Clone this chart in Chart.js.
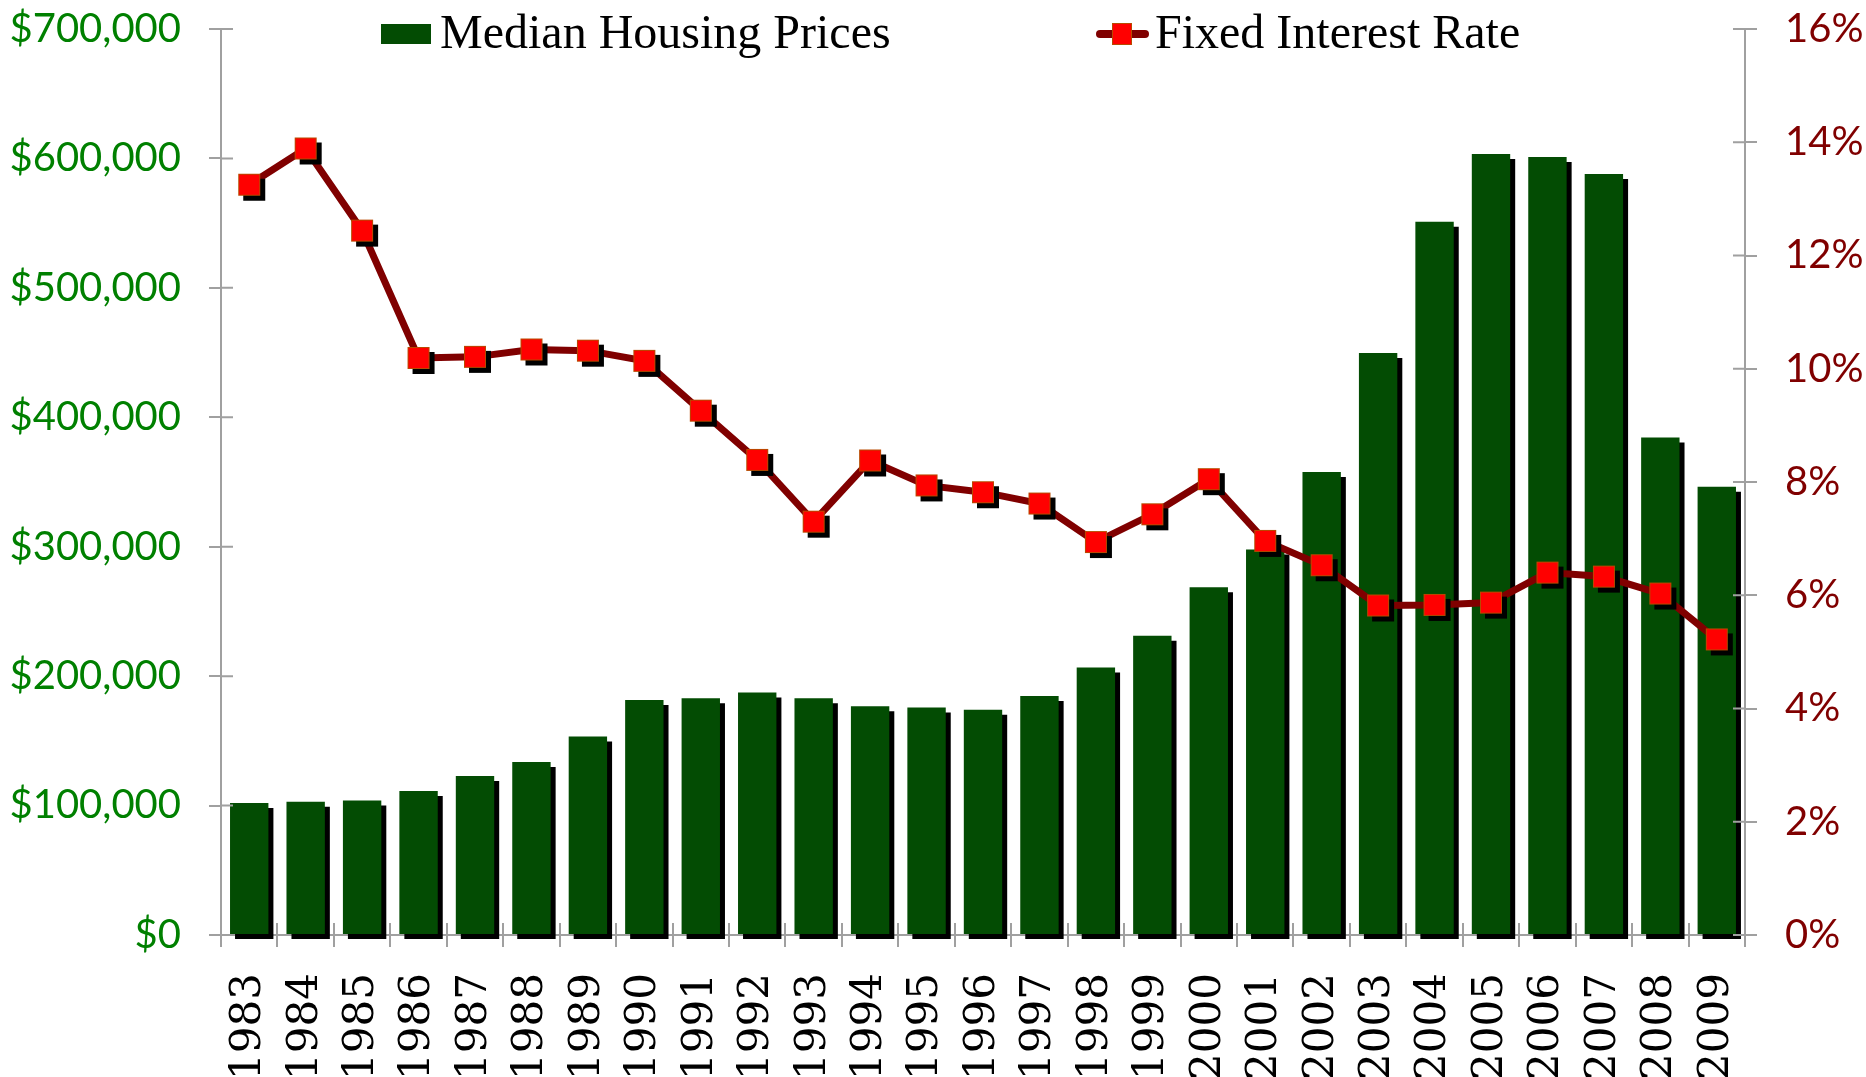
<!DOCTYPE html>
<html lang="en">
<head>
  <meta charset="utf-8">
  <title>Median Housing Prices and Fixed Interest Rate</title>
  <style type="text/css">
    html, body {
      margin: 0;
      padding: 0;
      background-color: #ffffff;
    }
    #wrap {
      width: 1866px;
      height: 1077px;
      position: relative;
    }
  </style>
  <script src="https://cdn.jsdelivr.net/npm/chart.js@4.4.1/dist/chart.umd.min.js"></script>
</head>
<body>
  <div id="wrap"><canvas id="graph"></canvas></div>
  <script>
    const years = ['1983', '1984', '1985', '1986', '1987', '1988', '1989', '1990', '1991',
      '1992', '1993', '1994', '1995', '1996', '1997', '1998', '1999', '2000', '2001',
      '2002', '2003', '2004', '2005', '2006', '2007', '2008', '2009'];
    const housingPrices = [102000, 103000, 104000, 111300, 122900, 133700, 153300, 181600, 182900,
      187300, 182900, 176700, 175700, 174100, 184700, 206700, 231200, 268700, 297900,
      357800, 449600, 551000, 603500, 601200, 588000, 384400, 346300];
    const interestRates = [13.25, 13.89, 12.44, 10.19, 10.21, 10.34, 10.32, 10.14, 9.26,
      8.39, 7.30, 8.38, 7.94, 7.82, 7.62, 6.94, 7.43, 8.05, 6.96,
      6.53, 5.82, 5.83, 5.87, 6.40, 6.33, 6.03, 5.22];
    const priceAxis = { min: 0, max: 700000, step: 100000 };
    const rateAxis = { min: 0, max: 16, step: 2 };

    const GREEN = '#034c03';
    const AXIS = '#a0a0a0';

    // square marker with its black drop shadow, centred on the point
    function makeMarker() {
      const c = document.createElement('canvas');
      c.width = 34;
      c.height = 34;
      const g = c.getContext('2d');
      g.fillStyle = '#000000';
      g.fillRect(11, 11, 22, 22);
      g.fillStyle = '#ff0000';
      g.fillRect(6, 6, 22, 22);
      g.strokeStyle = '#b84a00';
      g.lineWidth = 1;
      g.strokeRect(6.5, 6.5, 21, 21);
      return c;
    }

    const barShadow = {
      id: 'barShadow',
      beforeDatasetDraw(chart, args) {
        if (args.index !== 0) return;
        const ctx = chart.ctx;
        ctx.save();
        ctx.shadowColor = '#000000';
        ctx.shadowOffsetX = 5;
        ctx.shadowOffsetY = 5;
        ctx.shadowBlur = 0;
      },
      afterDatasetDraw(chart, args) {
        if (args.index !== 0) return;
        chart.ctx.restore();
      }
    };

    // tick marks cross the axis lines, so draw the inner half too
    const innerTicks = {
      id: 'innerTicks',
      afterDraw(chart) {
        const ctx = chart.ctx;
        const yl = chart.scales.y, yr = chart.scales.y1, x = chart.scales.x;
        ctx.save();
        ctx.strokeStyle = AXIS;
        ctx.lineWidth = 2;
        ctx.beginPath();
        yl.ticks.forEach(function (t, i) {
          const p = yl.getPixelForTick(i);
          ctx.moveTo(yl.right, p);
          ctx.lineTo(yl.right + 12, p);
        });
        yr.ticks.forEach(function (t, i) {
          const p = yr.getPixelForTick(i);
          ctx.moveTo(yr.left - 12, p);
          ctx.lineTo(yr.left, p);
        });
        const half = (x.getPixelForValue(1) - x.getPixelForValue(0)) / 2;
        for (let i = 0; i <= years.length; i++) {
          const p = Math.round(x.getPixelForValue(i) - half);
          ctx.moveTo(p, x.top - 12);
          ctx.lineTo(p, x.top);
        }
        ctx.stroke();
        ctx.restore();
      }
    };

    const topLegend = {
      id: 'topLegend',
      afterDraw(chart) {
        const ctx = chart.ctx;
        const sets = chart.data.datasets;
        ctx.save();
        ctx.font = '48px "Liberation Serif", "Times New Roman", serif';
        ctx.textBaseline = 'middle';
        // bars
        ctx.fillStyle = GREEN;
        ctx.fillRect(381, 24, 50, 20);
        ctx.fillStyle = '#000000';
        ctx.fillText(sets[0].label, 440, 35);
        // line
        ctx.strokeStyle = '#800000';
        ctx.lineWidth = 8;
        ctx.lineCap = 'round';
        ctx.beginPath();
        ctx.moveTo(1100, 34);
        ctx.lineTo(1145, 34);
        ctx.stroke();
        ctx.fillStyle = '#ff0000';
        ctx.fillRect(1112, 23, 20, 22);
        ctx.strokeStyle = '#b84a00';
        ctx.lineWidth = 1;
        ctx.strokeRect(1112.5, 23.5, 19, 21);
        ctx.fillStyle = '#000000';
        ctx.fillText(sets[1].label, 1155, 35);
        ctx.restore();
      }
    };

    const ctx = document.getElementById('graph').getContext('2d');
    window.myChart = new Chart(ctx, {
      type: 'bar',
      data: {
        labels: years,
        datasets: [
          {
            type: 'bar',
            label: 'Median Housing Prices',
            data: housingPrices,
            backgroundColor: GREEN,
            borderWidth: 0,
            barPercentage: 0.68,
            categoryPercentage: 1.0,
            yAxisID: 'y',
            order: 2,
            clip: false
          },
          {
            type: 'line',
            label: 'Fixed Interest Rate',
            data: interestRates,
            borderColor: '#800000',
            borderWidth: 7,
            pointStyle: makeMarker(),
            pointRadius: 17,
            tension: 0,
            yAxisID: 'y1',
            order: 1,
            clip: false
          }
        ]
      },
      options: {
        responsive: true,
        maintainAspectRatio: false,
        animation: false,
        events: [],
        layout: {
          padding: { top: 29, left: 0, right: 0, bottom: 0 }
        },
        plugins: {
          legend: { display: false },
          tooltip: { enabled: false }
        },
        scales: {
          x: {
            z: 1,
            border: { color: AXIS, width: 2 },
            grid: {
              drawOnChartArea: false,
              drawTicks: true,
              tickLength: 12,
              color: AXIS,
              lineWidth: 2
            },
            ticks: {
              autoSkip: false,
              minRotation: 90,
              maxRotation: 90,
              padding: 26,
              color: '#000000',
              font: { family: '"DejaVu Serif", serif', size: 42 }
            },
            afterFit(scale) { scale.height = 142; }
          },
          y: {
            position: 'left',
            min: priceAxis.min,
            max: priceAxis.max,
            border: { color: AXIS, width: 2 },
            grid: {
              drawOnChartArea: false,
              drawTicks: true,
              tickLength: 12,
              color: AXIS,
              lineWidth: 2
            },
            ticks: {
              stepSize: priceAxis.step,
              padding: 28,
              color: '#008000',
              font: { family: 'Lato, "Open Sans", sans-serif', size: 40 },
              callback: function (v) { return '$' + v.toLocaleString('en-US'); }
            },
            afterFit(scale) {
              scale.width = 221;
              scale.paddingTop = 0;
              scale.paddingBottom = 0;
            }
          },
          y1: {
            position: 'right',
            min: rateAxis.min,
            max: rateAxis.max,
            border: { color: AXIS, width: 2 },
            grid: {
              drawOnChartArea: false,
              drawTicks: true,
              tickLength: 12,
              color: AXIS,
              lineWidth: 2
            },
            ticks: {
              stepSize: rateAxis.step,
              padding: 28,
              color: '#800000',
              font: { family: 'Lato, "Open Sans", sans-serif', size: 40 },
              callback: function (v) { return v + '%'; }
            },
            afterFit(scale) {
              scale.width = 121;
              scale.paddingTop = 0;
              scale.paddingBottom = 0;
            }
          }
        }
      },
      plugins: [barShadow, innerTicks, topLegend]
    });
  </script>
</body>
</html>
